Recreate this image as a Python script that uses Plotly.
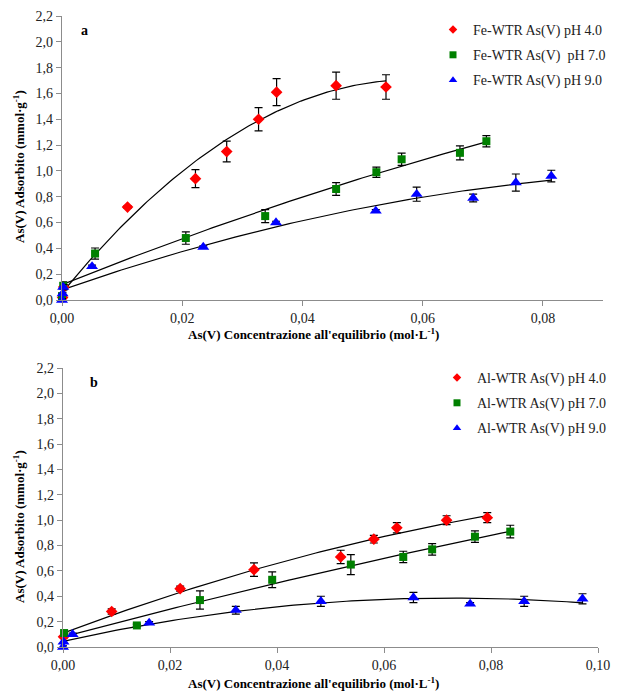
import numpy as np
import plotly.graph_objects as go

# ---------------- Panel a (Fe-WTR) ----------------
fe_ph4_x = [0.0001, 0.0003, 0.0109, 0.0222, 0.0274, 0.0327, 0.0357, 0.0456, 0.0539]
fe_ph4_y = [0.02, 0.10, 0.72, 0.94, 1.15, 1.40, 1.61, 1.66, 1.65]
fe_ph4_e = [0.01, 0.02, 0.01, 0.07, 0.08, 0.09, 0.105, 0.105, 0.095]

fe_ph7_x = [0.0000, 0.0002, 0.0055, 0.0206, 0.0338, 0.0456, 0.0523, 0.0565, 0.0662, 0.0706]
fe_ph7_y = [0.03, 0.11, 0.36, 0.48, 0.65, 0.86, 0.99, 1.09, 1.14, 1.23]
fe_ph7_e = [0.01, 0.03, 0.043, 0.048, 0.05, 0.05, 0.04, 0.047, 0.054, 0.044]

fe_ph9_x = [0.0000, 0.0001, 0.0002, 0.0050, 0.0235, 0.0356, 0.0522, 0.0590, 0.0684, 0.0755, 0.0814]
fe_ph9_y = [0.00, 0.05, 0.10, 0.26, 0.41, 0.60, 0.69, 0.82, 0.79, 0.91, 0.96]
fe_ph9_e = [0.01, 0.01, 0.02, 0.01, 0.01, 0.01, 0.01, 0.055, 0.03, 0.066, 0.045]

# ---------------- Panel b (Al-WTR) ----------------
al_ph4_x = [0.0001, 0.0091, 0.0219, 0.0357, 0.0519, 0.0581, 0.0624, 0.0717, 0.0793]
al_ph4_y = [0.08, 0.28, 0.46, 0.61, 0.71, 0.85, 0.94, 1.00, 1.02]
al_ph4_e = [0.01, 0.02, 0.02, 0.053, 0.053, 0.03, 0.04, 0.035, 0.04]

al_ph7_x = [0.0002, 0.0138, 0.0256, 0.0391, 0.0538, 0.0636, 0.0690, 0.0770, 0.0836]
al_ph7_y = [0.11, 0.17, 0.37, 0.53, 0.65, 0.71, 0.77, 0.87, 0.91]
al_ph7_e = [0.01, 0.01, 0.072, 0.062, 0.079, 0.045, 0.045, 0.045, 0.05]

al_ph9_x = [0.0000, 0.0001, 0.0018, 0.0161, 0.0323, 0.0482, 0.0655, 0.0761, 0.0862, 0.0971]
al_ph9_y = [0.00, 0.04, 0.10, 0.19, 0.29, 0.36, 0.39, 0.34, 0.36, 0.38]
al_ph9_e = [0.01, 0.01, 0.01, 0.01, 0.03, 0.04, 0.04, 0.01, 0.04, 0.04]

y_ticks = [0.0, 0.2, 0.4, 0.6, 0.8, 1.0, 1.2, 1.4, 1.6, 1.8, 2.0, 2.2]

FONT = "Liberation Serif, Times New Roman, serif"
RED, GREEN, BLUE = "#FF0000", "#008000", "#0000FF"

fig = go.Figure()

MARK = {"diamond": (9, 6.5), "square": (8, 7), "triangle-up": (10.5, 7.5)}


def add_series(x, y, e, name, color, symbol, xa, ya, legend):
    size, lsize = MARK[symbol]
    fig.add_trace(go.Scatter(
        x=x, y=y, mode="markers", name=name, showlegend=False,
        marker=dict(color=color, symbol=symbol, size=size, line=dict(width=0)),
        error_y=dict(type="data", array=e, visible=True, color="black",
                     thickness=1.2, width=4),
        xaxis=xa, yaxis=ya, cliponaxis=False,
    ))
    # legend entry with the smaller legend symbol
    fig.add_trace(go.Scatter(
        x=[None], y=[None], mode="markers", name=name, legendgroup=name,
        marker=dict(color=color, symbol=symbol, size=lsize, line=dict(width=0)),
        xaxis=xa, yaxis=ya, legend=legend, showlegend=True,
    ))


def add_trend(x, y, xa, ya):
    c = np.polyfit(x, y, 2)
    xs = np.linspace(0, max(x), 100)
    fig.add_trace(go.Scatter(
        x=xs, y=np.polyval(c, xs), mode="lines", showlegend=False,
        line=dict(color="black", width=1.2), xaxis=xa, yaxis=ya,
        hoverinfo="skip",
    ))


for x, y in [(fe_ph4_x, fe_ph4_y), (fe_ph7_x, fe_ph7_y), (fe_ph9_x, fe_ph9_y)]:
    add_trend(x, y, "x", "y")
for x, y in [(al_ph4_x, al_ph4_y), (al_ph7_x, al_ph7_y), (al_ph9_x, al_ph9_y)]:
    add_trend(x, y, "x2", "y2")

add_series(fe_ph4_x, fe_ph4_y, fe_ph4_e, "Fe-WTR As(V) pH 4.0", RED, "diamond", "x", "y", "legend")
add_series(fe_ph7_x, fe_ph7_y, fe_ph7_e, "Fe-WTR As(V)  pH 7.0", GREEN, "square", "x", "y", "legend")
add_series(fe_ph9_x, fe_ph9_y, fe_ph9_e, "Fe-WTR As(V) pH 9.0", BLUE, "triangle-up", "x", "y", "legend")

add_series(al_ph4_x, al_ph4_y, al_ph4_e, "Al-WTR As(V) pH 4.0", RED, "diamond", "x2", "y2", "legend2")
add_series(al_ph7_x, al_ph7_y, al_ph7_e, "Al-WTR As(V) pH 7.0", GREEN, "square", "x2", "y2", "legend2")
add_series(al_ph9_x, al_ph9_y, al_ph9_e, "Al-WTR As(V) pH 9.0", BLUE, "triangle-up", "x2", "y2", "legend2")

W, H = 618, 696
axis_common = dict(showline=True, linecolor="#8c8c8c", linewidth=1.2,
                   ticks="outside", tickcolor="#8c8c8c", ticklen=5,
                   showgrid=False, zeroline=False, mirror=False, automargin=False,
                   tickfont=dict(family=FONT, size=14, color="#222"))
xtitle = "<b>As(V) Concentrazione all'equilibrio (mol·L<sup>-1</sup>)</b>"
ytitle = "<b>As(V) Adsorbito (mmol·g<sup>-1</sup>)</b>"
tfont = dict(family=FONT, size=13, color="black")
lfont = dict(family=FONT, size=14, color="#222")


def ann(text, x, y, angle=0, font=tfont):
    return dict(text=text, x=x / W, y=1 - y / H, xref="paper", yref="paper",
                showarrow=False, textangle=angle, font=font,
                xanchor="center", yanchor="middle")


fig.update_layout(
    width=W, height=H, plot_bgcolor="white", paper_bgcolor="white",
    margin=dict(l=0, r=0, t=0, b=0, autoexpand=False), separators=",.",
    font=dict(family=FONT, size=14, color="black"),
    xaxis=dict(domain=[62 / W, 603 / W], range=[0, 0.09], tick0=0, dtick=0.02,
               tickformat=".2f", anchor="y", **axis_common),
    yaxis=dict(domain=[1 - 300 / H, 1 - 16 / H], range=[0, 2.2], tickvals=y_ticks,
               tickformat=".1f", anchor="x", **axis_common),
    xaxis2=dict(domain=[63 / W, 598 / W], range=[0, 0.1], tick0=0, dtick=0.02,
                tickformat=".2f", anchor="y2", **axis_common),
    yaxis2=dict(domain=[1 - 647 / H, 1 - 368 / H], range=[0, 2.2], tickvals=y_ticks,
                tickformat=".1f", anchor="x2", **axis_common),
    legend=dict(x=433 / W, y=1 - 14 / H, xanchor="left", yanchor="top",
                bgcolor="rgba(0,0,0,0)", font=lfont,
                itemwidth=30, tracegroupgap=4),
    legend2=dict(x=437 / W, y=1 - 362 / H, xanchor="left", yanchor="top",
                 bgcolor="rgba(0,0,0,0)", font=lfont,
                 itemwidth=30, tracegroupgap=4),
    annotations=[
        ann("<b>a</b>", 84, 31, font=dict(family=FONT, size=14, color="black")),
        ann("<b>b</b>", 94, 382, font=dict(family=FONT, size=14, color="black")),
        ann(xtitle, 313, 334),
        ann(xtitle, 313, 683),
        ann(ytitle, 19, 167, -90),
        ann(ytitle, 19, 527, -90),
    ],
)

fig.write_html("out.html", post_script="document.body.style.margin='0';",
               config={"displayModeBar": False})
